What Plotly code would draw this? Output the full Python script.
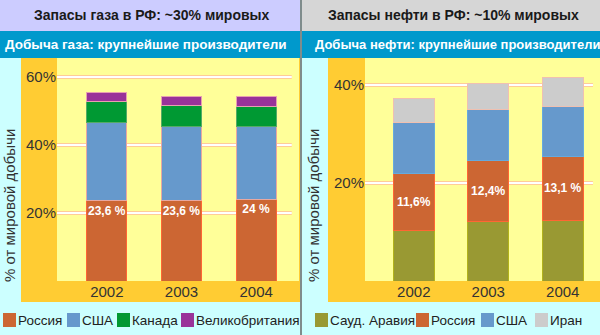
import plotly.graph_objects as go

# ---------------- data ----------------
years = ["2002", "2003", "2004"]

gas_russia = [23.6, 23.6, 24.0]
gas_usa = [22.9, 21.8, 21.5]
gas_canada = [6.4, 6.3, 5.9]
gas_uk = [2.6, 2.7, 2.8]
gas_labels = ["23,6 %", "23,6 %", "24 %"]

oil_saudi = [10.4, 12.2, 12.4]
oil_russia = [11.6, 12.4, 13.1]
oil_usa = [10.4, 10.4, 10.2]
oil_iran = [4.9, 5.3, 5.8]
oil_labels = ["11,6%", "12,4%", "13,1 %"]

gas_ticks = [20, 40, 60]
gas_ticktext = ["20%", "40%", "60%"]
oil_ticks = [20, 40]
oil_ticktext = ["20%", "40%"]

gas_names = ["Россия", "США", "Канада", "Великобритания"]
oil_names = ["Сауд. Аравия", "Россия", "США", "Иран"]

# ---------------- style ----------------
W, H = 600, 335
FONT = "Liberation Sans, Arial, sans-serif"
C_RUS, C_USA, C_CAN, C_UK = "#cc6633", "#6699cc", "#009933", "#993399"
C_SAU, C_IRN = "#999933", "#cccccc"
CYAN, LAV, GREY, BLUE = "#ccffff", "#ccccff", "#d6d6d6", "#0099cc"
GOLD, YEL = "#ffcc33", "#ffff99"

def X(px):
    return px / W

def Y(py):
    return 1 - py / H

fig = go.Figure()

def add_bar(name, xs, ys, color, line, xa, ya, width, text=None, anchor=None):
    fig.add_trace(go.Bar(
        name=name, x=xs, y=ys, xaxis=xa, yaxis=ya, width=width,
        marker=dict(color=color, line=dict(color=line, width=1)),
        text=text, texttemplate="%{text}" if text else None,
        textposition="inside" if text else "none",
        insidetextanchor=anchor if anchor else "middle",
        textangle=0, constraintext="none",
        textfont=dict(family=FONT, size=12, color="white", weight="bold"),
        showlegend=False, hoverinfo="skip",
    ))

gw, ow = 0.537, 0.55
add_bar(gas_names[0], years, gas_russia, C_RUS, "#ff6633", "x", "y", gw, gas_labels, "end")
add_bar(gas_names[1], years, gas_usa, C_USA, "#e8a8a0", "x", "y", gw)
add_bar(gas_names[2], years, gas_canada, C_CAN, "#55aa66", "x", "y", gw)
add_bar(gas_names[3], years, gas_uk, C_UK, "#e8a0b0", "x", "y", gw)

add_bar(oil_names[0], years, oil_saudi, C_SAU, "#b3b31a", "x2", "y2", ow)
add_bar(oil_names[1], years, oil_russia, C_RUS, "#ff6633", "x2", "y2", ow, oil_labels, "middle")
add_bar(oil_names[2], years, oil_usa, C_USA, "#66aadd", "x2", "y2", ow)
add_bar(oil_names[3], years, oil_iran, C_IRN, "#f0c0b0", "x2", "y2", ow)

shapes = []
def rect(x0, y0, x1, y1, color):
    shapes.append(dict(type="rect", xref="paper", yref="paper", x0=X(x0), x1=X(x1),
                       y0=Y(y1), y1=Y(y0), fillcolor=color, line=dict(width=0), layer="below"))

rect(0, 0, 300, 31, LAV)
rect(302, 0, 600, 31, GREY)
rect(0, 31, 300, 58, BLUE)
rect(302, 31, 600, 58, BLUE)
rect(21, 58, 300, 302, GOLD)
rect(328, 58, 600, 302, GOLD)
rect(57, 58, 299, 281, YEL)
rect(365, 58, 600, 281, YEL)

# divider
shapes.append(dict(type="line", xref="paper", yref="paper", x0=X(301), x1=X(301), y0=0, y1=1,
                   line=dict(color="#666666", width=1.5)))

# gridlines (white with salmon edges) at the tick values
for ticks, xa, ya in [(gas_ticks, "x", "y"), (oil_ticks, "x2", "y2")]:
    for t in ticks:
        for col, wd in [("#ffcc99", 4), ("white", 2)]:
            shapes.append(dict(type="line", xref=f"{xa} domain", yref=ya, x0=0, x1=0.97,
                               y0=t, y1=t, line=dict(color=col, width=wd), layer="below"))

annotations = []
def text(x, y, s, size=14, color="#222222", xanchor="left", weight="normal", angle=0):
    annotations.append(dict(xref="paper", yref="paper", x=X(x), y=Y(y), text=s, showarrow=False,
                            xanchor=xanchor, yanchor="middle", textangle=angle,
                            font=dict(family=FONT, size=size, color=color, weight=weight)))

# headers
text(152, 15, "Запасы газа в РФ: ~30% мировых", 14, "#1a1a1a", "center", "bold")
text(453, 15, "Запасы нефти в РФ: ~10% мировых", 14, "#1a1a1a", "center", "bold")
text(3, 44, "Добыча газа: крупнейшие производители", 13.5, "white", "left", "bold")
text(313, 44, "Добыча нефти: крупнейшие производители", 13, "white", "left", "bold")

# axis titles
text(9, 206, "% от мировой добычи", 15, "#333333", "center", angle=-90)
text(313, 205, "% от мировой добычи", 15, "#333333", "center", angle=-90)

# legends
gas_cols = [C_RUS, C_USA, C_CAN, C_UK]
oil_cols = [C_SAU, C_RUS, C_USA, C_IRN]
gas_leg_x = [3, 67, 117, 181]
oil_leg_x = [315, 416, 481, 535]
for names, cols, xs in [(gas_names, gas_cols, gas_leg_x), (oil_names, oil_cols, oil_leg_x)]:
    for n, c, x0 in zip(names, cols, xs):
        rect(x0, 313, x0 + 13, 327, c)
        text(x0 + 13, 320.5, n, 13.5, "#222222", "left")

axis_font = dict(family=FONT, size=15, color="#333333")
fig.update_layout(
    width=W, height=H, margin=dict(l=0, r=0, t=0, b=0),
    paper_bgcolor=CYAN, plot_bgcolor="rgba(0,0,0,0)",
    barmode="stack", showlegend=False,
    shapes=shapes, annotations=annotations,
    xaxis=dict(domain=[X(57), X(299)], anchor="y", type="category", range=[-0.667, 2.573],
               showgrid=False, zeroline=False, showline=False, ticks="", tickfont=axis_font,
               fixedrange=True),
    yaxis=dict(domain=[Y(281), Y(58)], anchor="x", range=[0, 223 / 3.4],
               tickvals=gas_ticks, ticktext=gas_ticktext, showgrid=False, zeroline=False,
               showline=False, ticks="", tickfont=axis_font, fixedrange=True),
    xaxis2=dict(domain=[X(365), 1.0], anchor="y2", type="category", range=[-0.655, 2.5],
                showgrid=False, zeroline=False, showline=False, ticks="", tickfont=axis_font,
                fixedrange=True),
    yaxis2=dict(domain=[Y(281), Y(58)], anchor="x2", range=[0, 223 / 4.9],
                tickvals=oil_ticks, ticktext=oil_ticktext, showgrid=False, zeroline=False,
                showline=False, ticks="", tickfont=axis_font, fixedrange=True),
)

fig.write_html("out.html")
